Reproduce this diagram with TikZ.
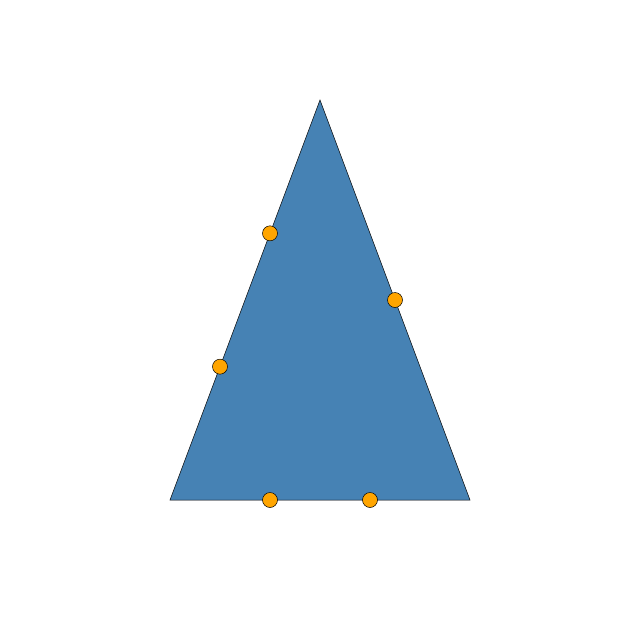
\documentclass[tikz,border=0pt]{standalone}
\usetikzlibrary{calc}
\definecolor{steel}{HTML}{4682B4}
\definecolor{dotor}{HTML}{FFA500}
\tikzset{
  tri/.style={fill=steel,draw=black,line width=0.5pt,line join=miter},
  dot/.style={circle,fill=dotor,draw=black,line width=0.5pt,minimum size=15pt,inner sep=0pt}
}
\begin{document}
\begin{tikzpicture}[x=1pt,y=-1pt]
\useasboundingbox (0,0) rectangle (640,640);
\coordinate (A) at (320,100);
\coordinate (B) at (170,500);
\coordinate (C) at (470,500);
\draw[tri] (A) -- (B) -- (C) -- cycle;
\node[dot] (d1) at ($(A)!1/3!(B)$) {};
\node[dot] (d2) at ($(A)!2/3!(B)$) {};
\node[dot] (d3) at ($(A)!1/2!(C)$) {};
\node[dot] (d4) at ($(B)!1/3!(C)$) {};
\node[dot] (d5) at ($(B)!2/3!(C)$) {};
\end{tikzpicture}
\end{document}
